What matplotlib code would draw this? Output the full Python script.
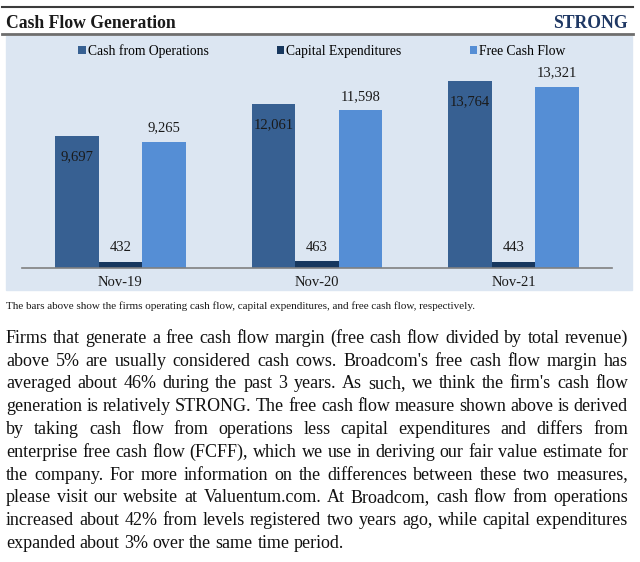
import matplotlib
matplotlib.use('Agg')
import matplotlib.pyplot as plt
from matplotlib.patches import Rectangle
from matplotlib.lines import Line2D
from matplotlib.font_manager import FontProperties
import numpy as np

# chart data (values in $ millions)
periods = ['Nov-19', 'Nov-20', 'Nov-21']
cash_from_ops = [9697, 12061, 13764]
capex = [432, 463, 443]
free_cash_flow = [9265, 11598, 13321]

series_names = ['Cash from Operations', 'Capital Expenditures', 'Free Cash Flow']
series_colors = ['#376092', '#17375e', '#558ed5']

title = 'Cash Flow Generation'
rating = 'STRONG'
caption = ('The bars above show the firms operating cash flow, capital expenditures, '
           'and free cash flow, respectively.')
paragraph = [
    "Firms that generate a free cash flow margin (free cash flow divided by total revenue)",
    "above 5% are usually considered cash cows. Broadcom's free cash flow margin has",
    "averaged about 46% during the past 3 years. As such, we think the firm's cash flow",
    "generation is relatively STRONG. The free cash flow measure shown above is derived",
    "by taking cash flow from operations less capital expenditures and differs from",
    "enterprise free cash flow (FCFF), which we use in deriving our fair value estimate for",
    "the company. For more information on the differences between these two measures,",
    "please visit our website at Valuentum.com. At Broadcom, cash flow from operations",
    "increased about 42% from levels registered two years ago, while capital expenditures",
    "expanded about 3% over the same time period.",
]

plt.rcParams['font.family'] = ['Liberation Serif', 'DejaVu Serif']

W, H = 640, 562
fig = plt.figure(figsize=(W / 100, H / 100), dpi=100)
fig.patch.set_facecolor('white')


# helpers: pixel position -> figure fraction
def fx(px):
    return px / W


def fy(py):
    return 1 - py / H


# header band
fig.add_artist(Line2D([fx(2), fx(633)], [fy(7), fy(7)], color='#3c3c3c', lw=1.5))
fig.add_artist(Line2D([fx(2), fx(633)], [fy(33.5), fy(33.5)], color='#6e6e6e', lw=2))
fig.text(fx(6), fy(28), title, fontsize=12.7, fontweight='bold', color='#1a1a1a',
         ha='left', va='baseline')
fig.text(fx(628), fy(28), rating, fontsize=12.7, fontweight='bold', color='#1f3864',
         ha='right', va='baseline')

# light panel behind the chart
fig.add_artist(Rectangle((fx(6), fy(290)), fx(632) - fx(6), fy(36) - fy(290),
                         transform=fig.transFigure, color='#dce6f2', zorder=0))

# bar chart
ax = fig.add_axes([fx(22), fy(267.7), fx(612) - fx(22), (267.7 - 57.4) / H])
ax.set_facecolor('none')
x = np.arange(len(periods))
w = 0.2214
b1 = ax.bar(x - w, cash_from_ops, w, color=series_colors[0], label=series_names[0])
b2 = ax.bar(x, capex, w, color=series_colors[1], label=series_names[1])
b3 = ax.bar(x + w, free_cash_flow, w, color=series_colors[2], label=series_names[2])
ax.set_xlim(-0.5, 2.5)
ax.set_ylim(0, 15500)

for rect, v in zip(b1, cash_from_ops):
    ax.annotate(f'{v:,}', (rect.get_x() + rect.get_width() / 2, v), xytext=(0, -17.3),
                textcoords='offset points', ha='center', va='baseline', fontsize=10.5, color='#1a1a1a')
for bars, vals in [(b2, capex), (b3, free_cash_flow)]:
    for rect, v in zip(bars, vals):
        ax.annotate(f'{v:,}', (rect.get_x() + rect.get_width() / 2, v), xytext=(0, 7.5),
                    textcoords='offset points', ha='center', va='baseline', fontsize=10.5, color='#1a1a1a')

ax.set_xticks(x, periods)
ax.tick_params(axis='x', length=0, pad=6, labelsize=10.5, labelcolor='#1a1a1a')
ax.set_yticks([])
for side in ['top', 'right', 'left']:
    ax.spines[side].set_visible(False)
ax.spines['bottom'].set_color('#808080')
ax.spines['bottom'].set_linewidth(1.2)

fig.legend(handles=[b1, b2, b3], labels=series_names, loc='center',
           bbox_to_anchor=(fx(322), fy(51)), ncol=3, frameon=False, fontsize=9.8,
           handlelength=0.55, handleheight=0.55, handletextpad=0.15, columnspacing=5.0,
           borderpad=0)

renderer = fig.canvas.get_renderer()


def text_width(s, fp):
    return renderer.get_text_width_height_descent(s, fp, ismath=False)[0]


# caption, sized to span the same width as the original
cap_font = FontProperties(family='Liberation Serif', size=8)
cap_font.set_size(8 * 468 / text_width(caption, cap_font))
fig.text(fx(6), fy(309), caption, fontproperties=cap_font, color='#1a1a1a',
         ha='left', va='baseline')

# justified paragraph; the widest line sets the font size
left, right = 6, 628
body_font = FontProperties(family='Liberation Serif', size=12)
widest = max(text_width(line, body_font) for line in paragraph[:-1])
body_font.set_size(12 * (right - left - 2) / widest)
space = text_width('a a', body_font) - text_width('aa', body_font)
for i, line in enumerate(paragraph):
    words = line.split()
    widths = [text_width(wd, body_font) for wd in words]
    base_y = 342.7 + i * 22.8
    if i == len(paragraph) - 1:
        gap = space
    else:
        gap = (right - left - sum(widths)) / (len(words) - 1)
    xpos = left
    for wd, wdt in zip(words, widths):
        fig.text(fx(xpos), fy(base_y), wd, fontproperties=body_font, color='#111111',
                 ha='left', va='baseline')
        xpos += wdt + gap

fig.savefig('out.png', dpi=100)
